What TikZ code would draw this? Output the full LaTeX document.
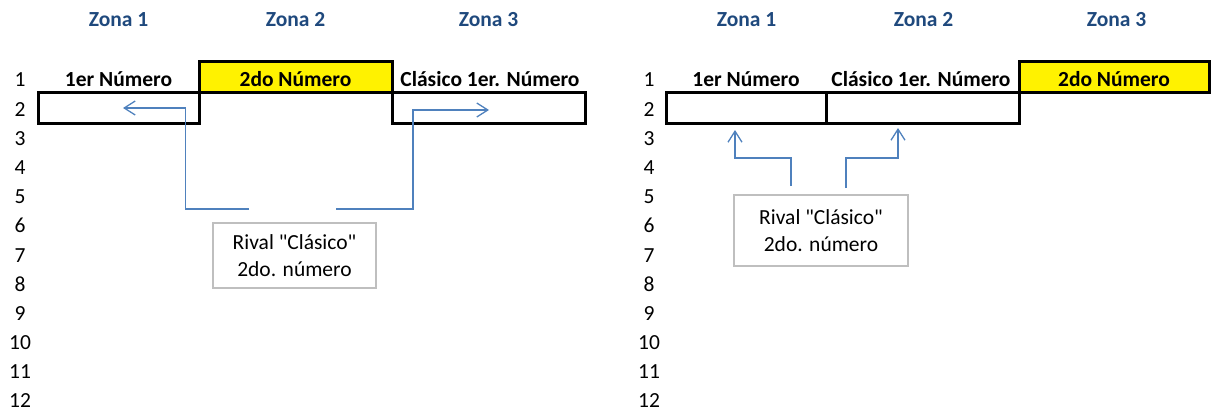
\documentclass[tikz,border=0pt]{standalone}
\usepackage{fontspec}
\setmainfont{Carlito}
\usetikzlibrary{arrows.meta}
\definecolor{zonablue}{RGB}{31,73,125}
\definecolor{arrowblue}{RGB}{79,129,189}
\definecolor{notegray}{RGB}{191,191,191}

\begin{document}
\begin{tikzpicture}[x=1pt,y=-1pt,
  every node/.style={font=\fontsize{21.5}{27}\selectfont, inner sep=0pt},
  zona/.style={font=\fontsize{21.5}{27}\selectfont\bfseries, text=zonablue, anchor=base},
  head/.style={font=\fontsize{21.5}{27}\selectfont\bfseries, anchor=base},
  rownum/.style={anchor=base},
  cell/.style={draw, line width=3pt, minimum height=31pt},
  hot/.style={cell, fill=yellow},
  link/.style={draw=arrowblue, line width=1.3pt, -{Straight Barb[length=11pt,width=14pt]}},
  note/.style={draw=notegray, line width=1.3pt, align=center}]
\useasboundingbox (0,0) rectangle (1213,412);

% left sheet
\node[zona] (lz1) at (118.5,27) {Zona 1};
\node[zona] (lz2) at (295.5,27) {Zona 2};
\node[zona] (lz3) at (488.5,27) {Zona 3};
\node[rownum] (lr1) at (20,86) {1};
\foreach \r in {2,...,12}
  \node[rownum] (lr\r) at (20,{116.5+(\r-2)*29.1}) {\r};
\node[cell, minimum width=161pt] (lc1) at (118.5,107.5) {};
\node[cell, minimum width=193pt] (lc3) at (488.5,107.5) {};
\node[hot, minimum width=193pt, minimum height=30pt] (lc2) at (295.5,77) {};
\node[head] (lh1) at (118.5,86) {1er Número};
\node[head] (lh2) at (295.5,86) {2do Número};
\node[head] (lh3) at (490,86) {Clásico 1er. Número};
\node[note, minimum width=163pt, minimum height=65pt] (lnote) at (294.5,255.5)
  {Rival \textquotedbl Clásico\textquotedbl\\2do. número};
\coordinate (lstart1) at (249,209);
\coordinate (lbend1) at (185.5,108);
\coordinate (ltip1) at (123,108);
\coordinate (lstart2) at (336,209);
\coordinate (lbend2) at (413,110);
\coordinate (ltip2) at (489,110);
\draw[link] (lstart1) -| (lbend1) -- (ltip1);
\draw[link] (lstart2) -| (lbend2) -- (ltip2);

% right sheet
\node[zona] (rz1) at (746.5,27) {Zona 1};
\node[zona] (rz2) at (923.5,27) {Zona 2};
\node[zona] (rz3) at (1116.5,27) {Zona 3};
\node[rownum] (rr1) at (649,86) {1};
\foreach \r in {2,...,12}
  \node[rownum] (rr\r) at (649,{116.5+(\r-2)*29.1}) {\r};
\node[cell, minimum width=160pt] (rc1) at (746,107.5) {};
\node[cell, minimum width=193pt] (rc2) at (922.5,107.5) {};
\node[hot, minimum width=190pt, minimum height=30pt] (rc3) at (1114,77) {};
\node[head] (rh1) at (746,86) {1er Número};
\node[head] (rh2) at (921,86) {Clásico 1er. Número};
\node[head] (rh3) at (1114,86) {2do Número};
\node[note, minimum width=174pt, minimum height=71pt] (rnote) at (821,230.5)
  {Rival \textquotedbl Clásico\textquotedbl\\2do. número};
\coordinate (rstart1) at (791,186);
\coordinate (rbend1) at (735,158);
\coordinate (rtip1) at (735,130);
\coordinate (rstart2) at (846,188);
\coordinate (rbend2) at (898,158);
\coordinate (rtip2) at (898,128);
\draw[link] (rstart1) |- (rbend1) -- (rtip1);
\draw[link] (rstart2) |- (rbend2) -- (rtip2);
\end{tikzpicture}
\end{document}
